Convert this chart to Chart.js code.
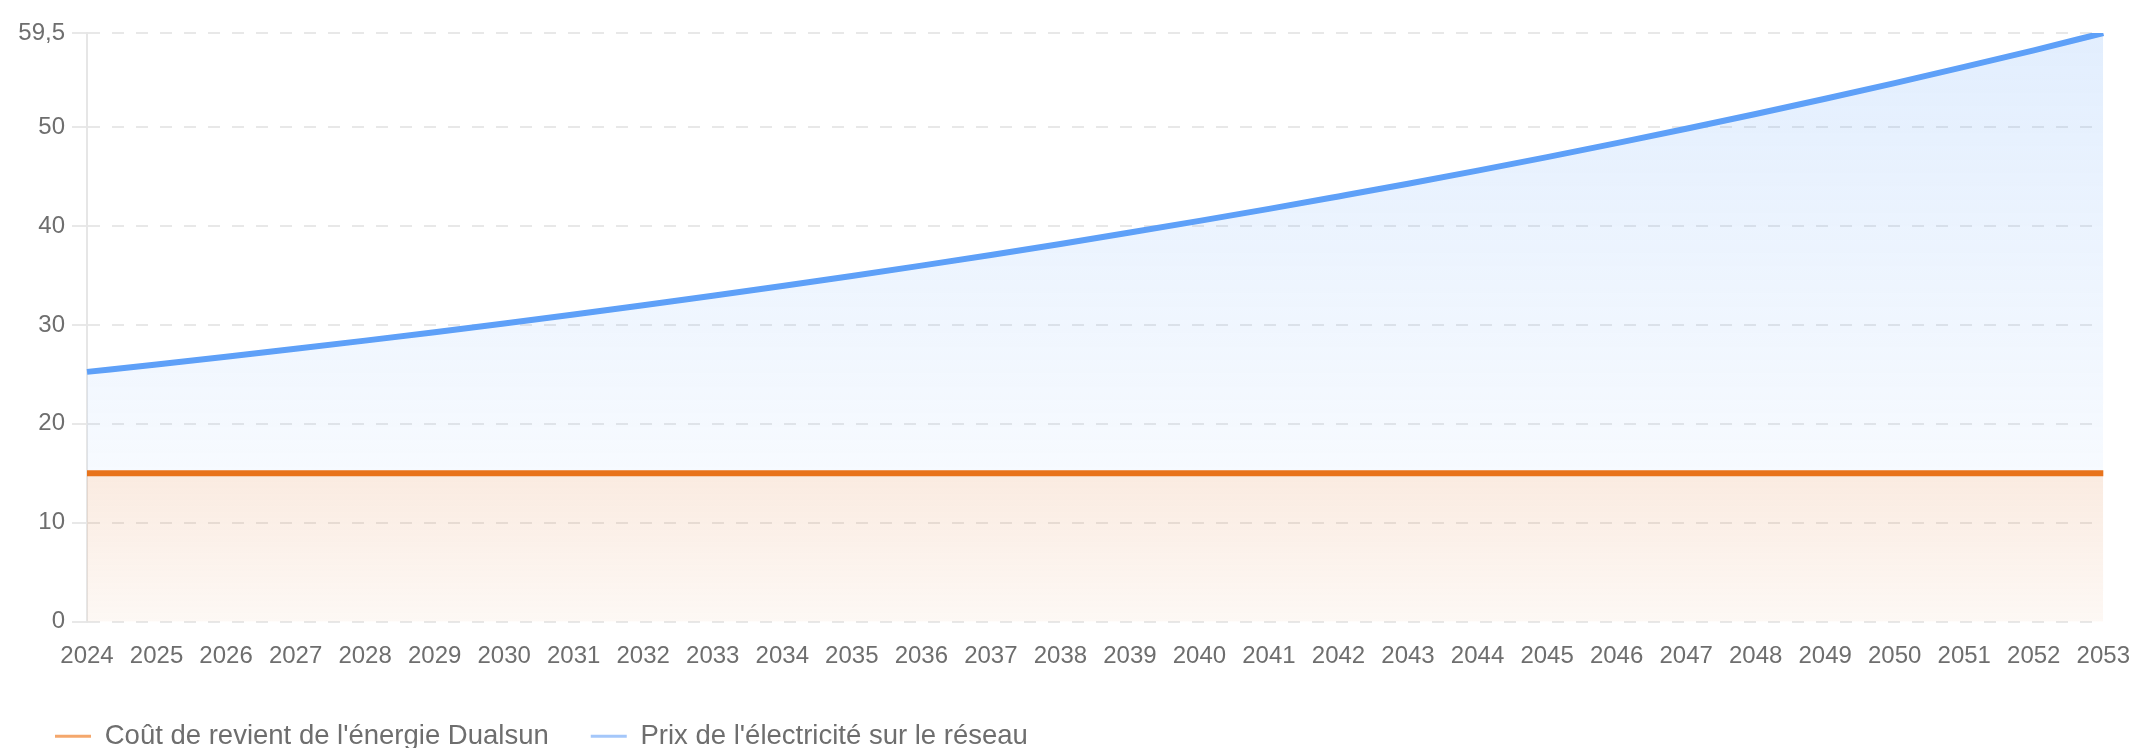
<!DOCTYPE html>
<html lang="fr">
<head>
<meta charset="utf-8">
<title>Coût de l'énergie</title>
<script src="https://cdn.jsdelivr.net/npm/chart.js@4/dist/chart.umd.min.js"></script>
<style>
  html, body { margin: 0; padding: 0; background: #fff; }
  #wrap { width: 2132px; height: 748px; }
</style>
</head>
<body>
<div id="wrap"><canvas id="myChart"></canvas></div>
<script>
const years = ['2024', '2025', '2026', '2027', '2028', '2029', '2030', '2031', '2032', '2033',
    '2034', '2035', '2036', '2037', '2038', '2039', '2040', '2041', '2042', '2043',
    '2044', '2045', '2046', '2047', '2048', '2049', '2050', '2051', '2052', '2053'];

const dualsunCost = [15, 15, 15, 15, 15, 15, 15, 15, 15, 15,
    15, 15, 15, 15, 15, 15, 15, 15, 15, 15,
    15, 15, 15, 15, 15, 15, 15, 15, 15, 15];

const gridPrice = [25.25, 26.0, 26.78, 27.58, 28.41, 29.26, 30.14, 31.05, 31.98, 32.94,
    33.93, 34.94, 35.99, 37.07, 38.18, 39.33, 40.51, 41.72, 42.98, 44.26,
    45.59, 46.96, 48.37, 49.82, 51.31, 52.85, 54.44, 56.07, 57.75, 59.5];

const yTicks = [0, 10, 20, 30, 40, 50, 59.5];

const seriesNames = ["Coût de revient de l'énergie Dualsun", "Prix de l'électricité sur le réseau"];

const family = "'Liberation Sans', Arial, sans-serif";
const tickFont = { family: family, size: 24 };
const legendFont = { family: family, size: 27.5 };
const textColor = '#6e6e6e';

// vertical gradient between two values of the y scale
function gradientFill(rgb, fromValue, fromAlpha, toValue, toAlpha) {
    return (context) => {
        const chart = context.chart;
        if (!chart.chartArea) return null;
        const y = chart.scales.y;
        const g = chart.ctx.createLinearGradient(0, y.getPixelForValue(fromValue), 0, y.getPixelForValue(toValue));
        g.addColorStop(0, 'rgba(' + rgb + ',' + fromAlpha + ')');
        g.addColorStop(1, 'rgba(' + rgb + ',' + toAlpha + ')');
        return g;
    };
}

const legendColors = ['#f4a76c', '#a4c7fa'];

let ctx = document.getElementById('myChart').getContext('2d');
let myChart = new Chart(ctx, {
    type: 'line',
    data: {
        labels: years,
        datasets: [{
            label: seriesNames[0],
            data: dualsunCost,
            borderColor: '#e8731b',
            borderWidth: 6,
            pointRadius: 0,
            fill: 'origin',
            backgroundColor: gradientFill('222,120,50', 15, 0.15, 0, 0.05)
        }, {
            label: seriesNames[1],
            data: gridPrice,
            borderColor: '#5ea0f8',
            borderWidth: 6,
            pointRadius: 0,
            cubicInterpolationMode: 'monotone',
            fill: '-1',
            backgroundColor: gradientFill('94,160,248', 59.5, 0.18, 15, 0.05)
        }]
    },
    options: {
        responsive: true,
        maintainAspectRatio: false,
        animation: false,
        devicePixelRatio: 1,
        layout: { padding: { left: 13, right: 0, top: 33, bottom: -12 } },
        scales: {
            x: {
                // no visible ticks, tickLength only pushes the labels down
                grid: { display: false, drawTicks: true, tickLength: 18 },
                border: { display: false },
                ticks: { color: textColor, font: tickFont, padding: 2, autoSkip: false, maxRotation: 0 },
                afterFit: (scale) => { scale.height += 8; }
            },
            y: {
                min: 0,
                max: 59.5,
                afterBuildTicks: (scale) => { scale.ticks = yTicks.map(v => ({ value: v })); },
                afterFit: (scale) => { scale.width = 74; },
                grid: { color: '#e8e8e8', lineWidth: 2, tickLength: 15 },
                border: { display: true, color: '#e6e6e6', width: 2, dash: [12, 12] },
                ticks: {
                    color: textColor, font: tickFont, padding: 7,
                    callback: (v) => Number(v).toLocaleString('fr-FR')
                }
            }
        },
        plugins: {
            tooltip: { enabled: false },
            legend: {
                position: 'bottom',
                align: 'start',
                labels: {
                    color: textColor,
                    font: legendFont,
                    padding: 42,
                    usePointStyle: true,
                    pointStyle: 'line',
                    pointStyleWidth: 36,
                    generateLabels: (chart) => {
                        const items = Chart.defaults.plugins.legend.labels.generateLabels(chart);
                        items.forEach((item, i) => {
                            item.strokeStyle = legendColors[i];
                            item.lineWidth = 3;
                            item.pointStyle = 'line';
                        });
                        return items;
                    }
                }
            }
        }
    }
});
</script>
</body>
</html>
